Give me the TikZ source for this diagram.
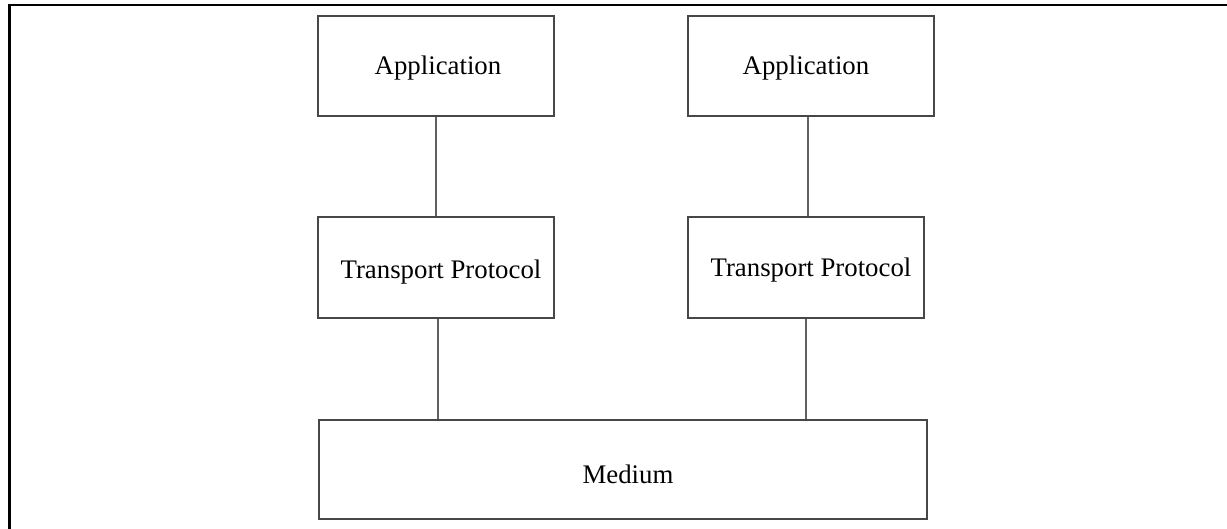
\documentclass[tikz,border=0pt]{standalone}
\usepackage{fontspec}
\setmainfont{Liberation Serif}
\begin{document}
\begin{tikzpicture}[x=1pt,y=-1pt,
  layerbox/.style={draw=black!72, line width=1.6pt, inner sep=0pt},
  layertext/.style={anchor=base, inner sep=0pt, font=\fontsize{26.8}{32}\selectfont},
  link/.style={draw=black!62, line width=1.5pt},
  frameline/.style={draw=black, line cap=rect}]
  \useasboundingbox (0,0) rectangle (1227,529);

  % open frame: left and top edges only
  \draw[frameline, line width=3pt] (9.5,529) -- (9.5,5.5);
  \draw[frameline, line width=2.4pt] (9.5,5) -- (1227,5);

  % protocol stack boxes
  \node[layerbox, minimum width=236pt, minimum height=100pt] (appL) at (436,66) {};
  \node[layerbox, minimum width=246pt, minimum height=100pt] (appR) at (811,66) {};
  \node[layerbox, minimum width=236pt, minimum height=101pt] (tpL)  at (436,267.5) {};
  \node[layerbox, minimum width=236pt, minimum height=101pt] (tpR)  at (806,267.5) {};
  \node[layerbox, minimum width=608pt, minimum height=99pt]  (med)  at (623,469.5) {};

  % labels
  \node[layertext] (appLt) at (438,75)  {Application};
  \node[layertext] (appRt) at (806,75)  {Application};
  \node[layertext] (tpLt)  at (441,279) {Transport Protocol};
  \node[layertext] (tpRt)  at (811,277) {Transport Protocol};
  \node[layertext] (medt)  at (628,483) {Medium};

  % vertical links between layers
  \draw[link] (appL.south) -- (tpL.north);
  \draw[link] ([xshift=-3pt]appR.south) -- ([xshift=-3pt]appR.south |- tpR.north);
  \draw[link] ([xshift=2pt]tpL.south) -- ([xshift=2pt]tpL.south |- med.north);
  \draw[link] (tpR.south) -- (tpR.south |- med.north);
\end{tikzpicture}
\end{document}
